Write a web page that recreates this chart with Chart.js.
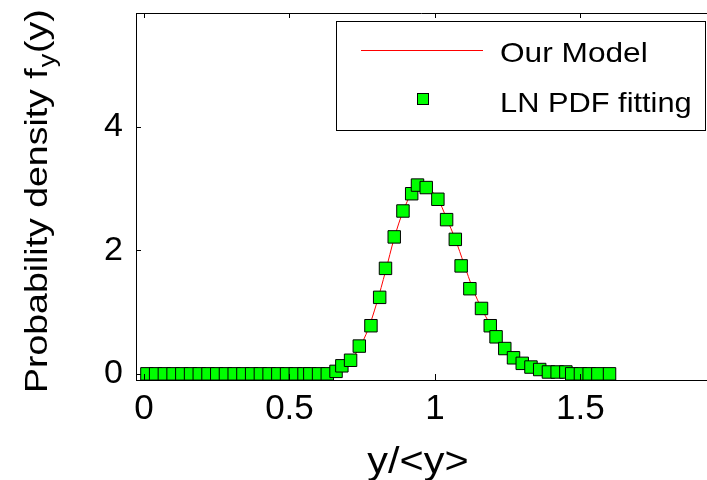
<!DOCTYPE html>
<html><head><meta charset="utf-8">
<script src="https://cdn.jsdelivr.net/npm/chart.js@4.4.0/dist/chart.umd.min.js"></script>
<style>html,body{margin:0;padding:0;background:#fff;overflow:hidden}canvas{display:block}</style>
</head><body>
<canvas id="c" width="707" height="480"></canvas>
<script>
// ---- data ----
const xTicks = [0, 0.5, 1, 1.5];
const yTicks = [0, 2, 4];
const seriesNames = ['Our Model', 'LN PDF fitting'];
const xTitle = 'y/<y>';
const yTitleMain = 'Probability density f';
const yTitleSub = 'y';
const yTitleTail = '(y)';

const fitX = [0.01,0.04,0.07,0.10,0.13,0.16,0.19,0.22,0.25,0.28,0.31,0.34,0.37,0.40,0.43,0.46,0.49,0.52,0.55,0.57,0.60,0.63,
  0.66,0.68,0.71,0.74,0.78,0.81,0.83,0.86,0.89,0.92,0.94,0.97,1.01,1.04,1.07,1.09,1.12,1.16,1.19,1.21,1.24,1.27,1.30,1.33,1.36,1.39,1.42,1.45,1.47,1.50,1.53,1.56,1.60];
const fitY = [0,0,0,0,0,0,0,0,0,0,0,0,0,0,0,0,0,0,0,0,0,0,
  0.04,0.13,0.22,0.45,0.78,1.24,1.71,2.22,2.64,2.92,3.06,3.02,2.83,2.50,2.18,1.75,1.38,1.06,0.78,0.60,0.41,0.26,0.17,0.11,0.07,0.03,0.03,0.03,0,0,0,0,0];

const modelX = [0,0.2,0.4,0.55,0.6,0.63,0.66,0.69,0.71,0.74,0.77,0.80,0.83,0.86,0.89,0.92,0.95,0.98,1.01,1.04,
  1.07,1.10,1.13,1.16,1.19,1.22,1.25,1.28,1.31,1.34,1.37,1.40,1.45,1.50,1.60];
const modelY = [0,0,0,0,0.005,0.02,0.05,0.12,0.22,0.42,0.72,1.15,1.66,2.2,2.63,2.93,3.06,3.0,2.84,2.52,
  2.18,1.78,1.38,1.06,0.8,0.57,0.39,0.26,0.17,0.11,0.07,0.04,0.02,0.01,0];

const FONT = "'Liberation Sans', Arial, Helvetica, sans-serif";

function stretchedText(ctx, text, x, y, size, sx) {
  ctx.save();
  ctx.translate(x, y);
  ctx.scale(sx, 1);
  ctx.font = size + 'px ' + FONT;
  ctx.fillText(text, 0, 0);
  const w = ctx.measureText(text).width * sx;
  ctx.restore();
  return w;
}

const framePlugin = {
  id: 'frame',
  afterDatasetsDraw(chart) {
    const ctx = chart.ctx, a = chart.chartArea;
    const xs = chart.scales.x, ys = chart.scales.y;
    ctx.save();
    ctx.strokeStyle = '#000';
    ctx.lineWidth = 1;
    ctx.beginPath();
    ctx.moveTo(a.left, a.top + 0.5); ctx.lineTo(a.right, a.top + 0.5);
    xTicks.forEach(v => {
      const px = Math.round(xs.getPixelForValue(v)) + 0.5;
      ctx.moveTo(px, a.bottom); ctx.lineTo(px, a.bottom - 6);
      ctx.moveTo(px, a.top); ctx.lineTo(px, a.top + 5);
    });
    yTicks.forEach(v => {
      const py = Math.round(ys.getPixelForValue(v)) + 0.5;
      ctx.moveTo(a.left, py); ctx.lineTo(a.left + 5, py);
    });
    ctx.stroke();
    ctx.restore();
  },
  afterDraw(chart) {
    const ctx = chart.ctx;
    ctx.save();
    // legend
    ctx.fillStyle = '#fff';
    ctx.fillRect(336.5, 21.5, 369, 109);
    ctx.strokeStyle = '#000'; ctx.lineWidth = 1;
    ctx.strokeRect(336.5, 21.5, 369, 109);
    ctx.strokeStyle = '#ff0000';
    ctx.beginPath(); ctx.moveTo(361, 50.5); ctx.lineTo(483, 50.5); ctx.stroke();
    ctx.fillStyle = '#00ff00'; ctx.strokeStyle = '#000';
    ctx.fillRect(417.5, 93.5, 11, 11); ctx.strokeRect(417.5, 93.5, 11, 11);
    ctx.fillStyle = '#000';
    ctx.textBaseline = 'alphabetic'; ctx.textAlign = 'left';
    stretchedText(ctx, seriesNames[0], 500, 62, 28, 1.13);
    stretchedText(ctx, seriesNames[1], 500, 112, 28, 1.1);
    // x title
    ctx.font = '36px ' + FONT;
    const xw = ctx.measureText(xTitle).width * 1.15;
    stretchedText(ctx, xTitle, 418 - xw / 2, 473, 36, 1.15);
    // y title (rotated)
    ctx.save();
    ctx.translate(47, 393);
    ctx.rotate(-Math.PI / 2);
    const sx = 1.17;
    let w = stretchedText(ctx, yTitleMain, 0, 0, 32, sx);
    let w2 = stretchedText(ctx, yTitleSub, w + 1, 8, 23, sx);
    stretchedText(ctx, yTitleTail, w + 1 + w2 + 1, 0, 32, sx);
    ctx.restore();
    ctx.restore();
  }
};

new Chart(document.getElementById('c').getContext('2d'), {
  type: 'scatter',
  data: {
    datasets: [
      {
        label: seriesNames[0], type: 'line',
        data: modelX.map((x, i) => ({ x, y: modelY[i] })),
        borderColor: '#ff0000', borderWidth: 1, pointRadius: 0, fill: false,
        cubicInterpolationMode: 'monotone', order: 2
      },
      {
        label: seriesNames[1],
        data: fitX.map((x, i) => ({ x, y: fitY[i] })),
        pointStyle: 'rect', pointRadius: 8.8, backgroundColor: '#00ff00',
        borderColor: '#000', borderWidth: 1, order: 1
      }
    ]
  },
  options: {
    responsive: false, animation: false, devicePixelRatio: 1,
    layout: { autoPadding: false, padding: { top: 13, left: 0, right: 0, bottom: 0 } },
    plugins: { legend: { display: false }, tooltip: { enabled: false } },
    scales: {
      x: {
        type: 'linear', min: -0.0275, max: 1.935,
        grid: { display: false, drawTicks: false },
        border: { display: true, color: '#000', width: 1 },
        afterBuildTicks: s => { s.ticks = xTicks.map(v => ({ value: v })); },
        afterFit: s => { s.height = 100; s.paddingLeft = 0; s.paddingRight = 0; },
        ticks: { font: { family: FONT, size: 35 }, color: '#000', padding: 8, maxRotation: 0,
          callback: v => String(v) }
      },
      y: {
        type: 'linear', min: -0.1, max: 5.85,
        grid: { display: false, drawTicks: false },
        border: { display: true, color: '#000', width: 1 },
        afterBuildTicks: s => { s.ticks = yTicks.map(v => ({ value: v })); },
        afterFit: s => { s.width = 136; s.paddingTop = 0; s.paddingBottom = 0; },
        ticks: { font: { family: FONT, size: 34 }, color: '#000', padding: 13,
          callback: v => String(v) }
      }
    }
  },
  plugins: [framePlugin]
});
</script>
</body></html>
